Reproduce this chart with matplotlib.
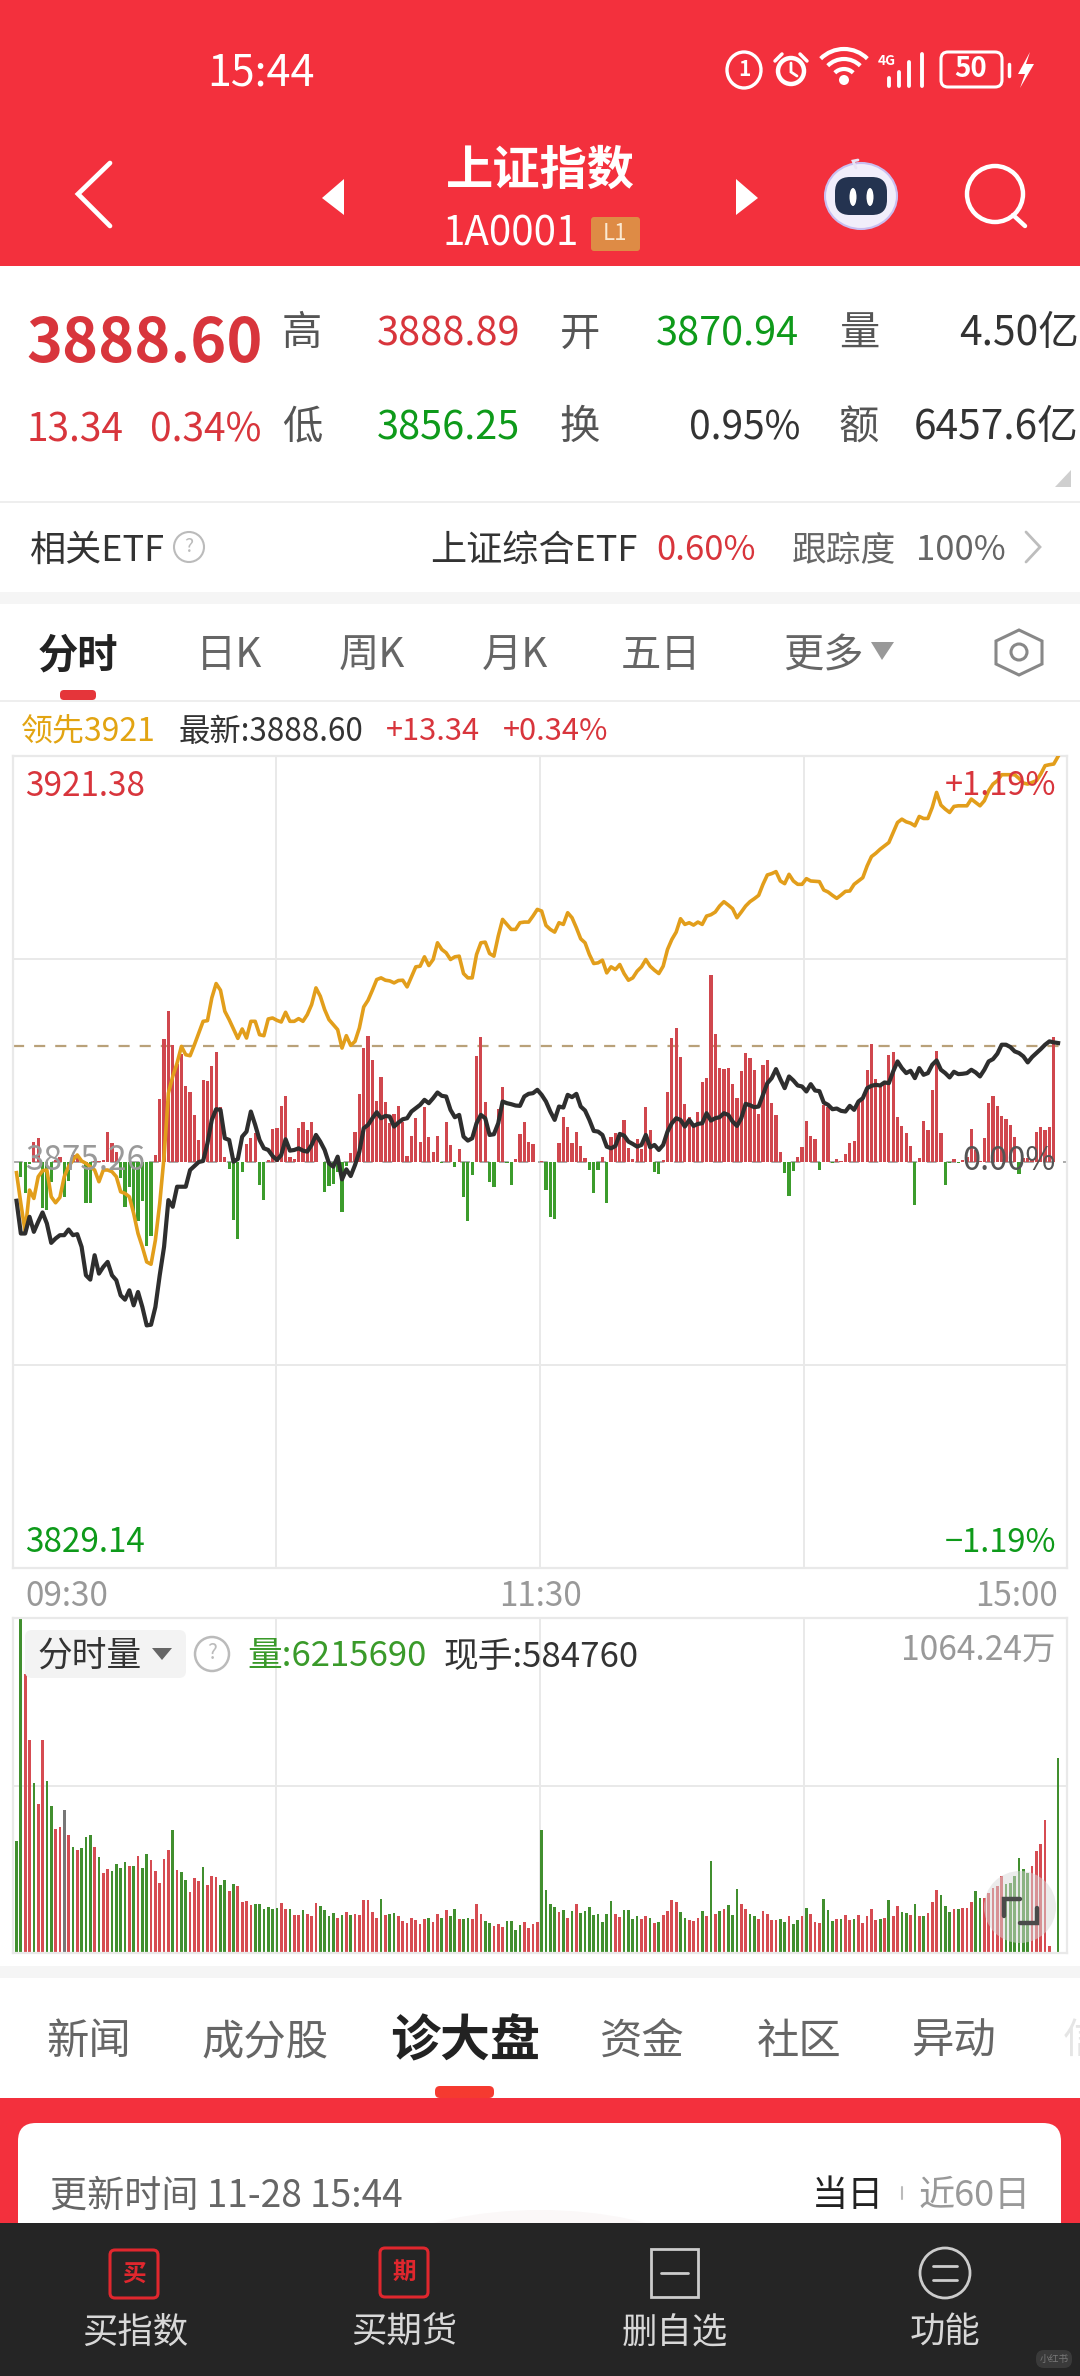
import numpy as np
import matplotlib
matplotlib.use("Agg")
import matplotlib.pyplot as plt
from matplotlib.patches import Rectangle, FancyBboxPatch, Circle, Ellipse, Polygon, Arc

plt.rcParams['font.family'] = ['Noto Sans CJK SC', 'DejaVu Sans']

# ---------- data ----------
# line and bar values in chart units: 1215 units = 1.19 %
index_line = [
 -116,-214,-214,-164,-209,-179,-151,-184,-242,-229,
 -219,-219,-202,-219,-216,-254,-339,-352,-279,-334,
 -314,-299,-339,-354,-399,-412,-384,-429,-389,-434,
 -489,-487,-434,-339,-254,-114,-134,-74,-74,-74,
 -24,-12,0,3,56,126,158,156,71,66,
 1,9,76,91,151,111,66,41,36,18,
 6,21,68,34,36,41,34,31,51,81,
 61,36,-4,-14,16,-52,-22,-42,-9,31,
 101,111,131,149,131,138,136,106,118,128,
 131,151,161,171,186,176,191,208,198,196,
 156,134,141,76,64,71,116,141,131,81,
 83,116,181,176,173,169,168,196,204,206,
 216,201,181,151,126,166,163,201,194,204,
 166,154,126,93,91,81,46,41,48,84,
 79,61,54,46,51,81,44,51,36,51,
 91,116,131,126,106,126,108,114,116,146,
 124,131,134,146,141,121,108,131,174,170,
 164,166,201,236,251,278,248,221,256,244,
 229,226,211,233,214,212,178,171,158,160,
 153,151,168,156,181,191,221,228,231,229,
 238,236,271,301,281,266,273,251,281,261,
 266,291,304,276,266,253,270,263,264,266,
 276,268,256,276,301,308,324,351,351,344,
 331,326,316,298,314,326,338,351,361,358,356]

lead_line = [
 -32,-124,-209,-84,-109,-44,-26,-24,-104,-122,
 -106,-44,-14,6,21,3,-4,-14,-24,-59,
 -24,-24,-29,-44,-89,-94,-104,-154,-214,-254,
 -299,-306,-234,-124,16,206,256,296,346,321,
 318,351,386,421,423,491,534,514,451,426,
 398,370,398,371,421,421,381,378,428,431,
 424,419,448,421,421,429,421,441,471,521,
 496,456,426,411,396,341,378,349,361,401,
 464,484,514,546,551,544,542,536,543,544,
 524,554,584,586,614,588,606,656,636,626,
 606,614,616,564,551,551,621,656,658,624,
 616,676,726,711,696,696,716,718,718,736,
 756,751,708,696,688,716,711,746,731,701,
 668,656,621,594,596,604,566,584,576,591,
 564,544,551,571,584,606,586,574,564,586,
 636,666,688,728,711,716,709,718,711,736,
 740,748,766,779,769,758,731,748,766,779,
 788,798,831,859,863,869,841,833,861,841,
 831,831,848,841,840,839,814,808,798,789,
 799,810,811,831,841,851,886,914,924,936,
 946,956,986,1016,1026,1018,1014,1006,1034,1028,
 1028,1061,1106,1068,1056,1046,1064,1066,1066,1066,
 1086,1076,1066,1081,1111,1131,1141,1159,1159,1159,
 1159,1148,1134,1131,1136,1141,1161,1186,1189,1191,1214]

flow_bars = [
 0,-44,-92,-5,61,73,-139,-144,-59,5,
 16,-106,-57,20,16,5,-122,-124,3,3,
 6,91,58,31,-49,-134,-74,-147,-177,-116,
 -251,-221,21,188,369,451,349,294,323,226,
 208,141,66,246,241,288,330,166,14,-21,
 -174,-230,-31,53,71,86,-68,-114,5,99,
 103,168,198,14,10,101,119,96,119,76,
 0,-89,-71,-67,-30,-151,-11,26,91,204,
 341,376,306,184,254,181,116,144,168,121,
 19,78,131,61,164,75,30,78,-3,120,
 51,-16,38,-106,-176,-40,318,374,181,-59,
 -74,160,223,-3,-69,8,84,119,60,53,
 0,4,-84,-166,-171,57,134,104,56,91,
 48,13,-24,-94,-24,15,-122,74,86,86,
 126,41,8,68,40,165,96,-31,-37,5,
 208,371,401,314,174,136,106,151,238,251,
 561,383,280,278,281,234,191,273,326,310,
 276,144,289,306,178,141,31,-34,-102,-27,
 16,46,124,78,68,-24,171,166,-2,8,
 4,24,56,63,176,191,274,353,248,226,
 236,321,330,136,108,86,48,-130,12,123,
 96,216,331,88,-70,-2,8,-4,6,14,
 98,36,4,71,176,198,169,138,128,112,
 76,-36,12,11,8,91,106,96,105,374,0]

# volume in panel units: 1005 units = 1064.24 wan
volume = [
 335,1005,838,640,510,448,638,515,440,372,
 378,428,355,318,310,315,348,354,318,288,
 240,252,245,267,255,272,260,260,290,254,
 297,280,245,210,282,308,370,248,243,220,
 183,225,217,257,205,230,227,205,218,187,
 208,200,153,155,145,148,148,132,138,133,
 135,150,133,131,115,115,128,117,112,150,
 142,128,112,120,105,115,123,115,118,115,
 158,158,123,105,162,115,118,120,110,97,
 90,105,100,88,102,105,92,118,105,130,
 112,133,102,103,105,103,148,118,95,90,
 80,87,78,95,96,70,85,94,75,88,
 92,370,190,148,138,122,130,105,125,147,
 120,125,138,114,118,94,118,156,118,107,
 130,128,103,110,103,112,105,90,94,115,
 126,160,154,122,105,99,97,105,125,110,
 275,118,127,132,145,115,192,148,132,118,
 110,102,125,118,100,100,102,92,112,86,
 100,110,135,118,92,90,162,128,97,103,
 103,113,100,103,113,90,110,131,100,102,
 105,158,110,140,124,120,115,146,112,112,
 120,152,188,174,142,123,132,133,135,136,
 153,185,165,165,180,195,200,230,208,210,
 230,285,252,240,260,305,327,398,20,0,586]

volume_side = ("GGRRGRRGGR" "RNRGRGGGRG" "RRGGGGRGRG" "GRRRRRGRGG" "RRRGRRRGGR"
               "GRRRRGGGGG" "GRRGRRGRRR" "GGGGRGRGRR" "RRRRGRGGRR" "RRRRRGRRGR"
               "GGRGGRRRGG" "RRRGGGGRRR" "RGGGGRGRGR" "GGGGGGGGRR" "GGGGRRGRGR"
               "RRRGGRRRGR" "GRGRGGGRRG" "GRRRRRGGRG" "GRGRRRGGGR" "GRRGRRRRRG"
               "RGRRGGRGRG" "RRRGGGRGRR" "RGGRRRRRGG" "GGGGRRRRRR" "G")

PREV_CLOSE_PCT = 0.0
LAST_PCT = 0.34
PCT_LIMIT = 1.19
UNIT_TO_PCT = PCT_LIMIT / 1215
VOL_TO_WAN = 1064.24 / 1005

RED = '#D8353C'; HEAD = '#F3303D'; GREEN = '#0E9A1A'; GRID = '#E9E9E9'
BAR_RED = '#D0474E'; BAR_GREEN = '#3C9C2C'; VOL_RED = '#D64C52'; VOL_GREEN = '#418F2F'
side_col = {'R': VOL_RED, 'G': VOL_GREEN, 'N': '#777777'}

W, H = 1080, 2376
fig = plt.figure(figsize=(W/100, H/100), dpi=100, facecolor='white')
ui = fig.add_axes([0, 0, 1, 1], zorder=0)
ui.set_xlim(0, W); ui.set_ylim(H, 0); ui.axis('off')
over = fig.add_axes([0, 0, 1, 1], zorder=5)
over.set_xlim(0, W); over.set_ylim(H, 0); over.axis('off'); over.patch.set_alpha(0)


def T(x, y, s, size, color='#333333', ha='left', weight='normal', ax=over):
    ax.text(x, y + 8, s, fontsize=size, color=color, ha=ha, va='center', fontweight=weight)


def R(x0, y0, x1, y1, color, ax=ui, z=1):
    ax.add_patch(Rectangle((x0, y0), x1-x0, y1-y0, fc=color, ec='none', zorder=z))


def RR(x0, y0, x1, y1, r, fc='none', ec='none', lw=0, ax=over, z=2):
    ax.add_patch(FancyBboxPatch((x0+r, y0+r), x1-x0-2*r, y1-y0-2*r,
                                boxstyle=f"round,pad={r}", fc=fc, ec=ec, lw=lw, zorder=z))


def L(xs, ys, color, lw, ax=over, z=3):
    ax.plot(xs, ys, color=color, lw=lw, zorder=z, solid_capstyle='round', solid_joinstyle='miter')


# ---------- header ----------
R(0, 0, W, 266, HEAD)
T(261, 65, '15:44', 31, 'white', 'center', 'medium')
# status icons
over.add_patch(Arc((744, 70), 34, 36, theta1=0, theta2=360, ec='white', lw=2.4))
T(744, 61, '1', 15, 'white', 'center', 'bold')
over.add_patch(Circle((791, 71), 13, fc='none', ec='white', lw=3.2))
L([791, 791, 797], [63, 72, 76], 'white', 2)
L([775, 782], [61, 54], 'white', 2.5); L([800, 807], [54, 61], 'white', 2.5)
for rad in (26, 46, 66):
    over.add_patch(Arc((844, 82), rad, rad, theta1=225, theta2=315, ec='white', lw=3))
over.add_patch(Circle((844, 80), 5, fc='white', ec='none'))
T(878, 53, '4G', 10, 'white', 'left', 'bold')
for xb, top in zip((889, 899, 909, 922), (78, 72, 62, 54)):
    L([xb, xb], [top, 86], 'white', 2.8)
RR(941, 52, 1002, 87, 7, ec='white', lw=2.2)
T(971, 61, '50', 20, 'white', 'center', 'bold')
L([1009, 1009], [64, 76], 'white', 2.5)
over.add_patch(Polygon([[1030, 52], [1018, 74], [1025, 74], [1020, 88], [1034, 64], [1026, 64]], fc='white', ec='none'))
# nav bar
L([110, 78, 110], [163, 194, 226], 'white', 3.4)
over.add_patch(Polygon([[322, 198], [344, 179], [344, 215]], fc='white', ec='none'))
over.add_patch(Polygon([[758, 198], [736, 179], [736, 215]], fc='white', ec='none'))
T(540, 163, '上证指数', 34, 'white', 'center', 'bold')
T(443, 226, '1A0001', 29, 'white', 'left')
RR(591, 217, 640, 251, 3, fc='#DE8B45')
T(615, 225, 'L1', 16, '#FBE9D2', 'center')
# robot
L([856, 853, 858], [168, 161, 160], '#E8E4F5', 2)
over.add_patch(Ellipse((861, 196), 72, 66, fc='#F1EEFB', ec='#C9BEF0', lw=1.5, zorder=2))
RR(835, 177, 887, 215, 15, fc='#243350', z=3)
over.add_patch(Ellipse((853, 197), 7, 18, fc='white', ec='none', zorder=4))
over.add_patch(Ellipse((870, 197), 7, 18, fc='white', ec='none', zorder=4))
# search
over.add_patch(Circle((995, 194), 28, fc='none', ec='white', lw=3.2))
L([1013, 1025], [215, 226], 'white', 3.2)

# ---------- quote block ----------
T(26, 336, '3888.60', 44, RED, weight='bold')
T(27, 422, '13.34', 28, RED, weight='medium')
T(150, 422, '0.34%', 28, RED, weight='medium')
T(302, 326, '高', 29, '#555555', 'center'); T(302, 419, '低', 29, '#555555', 'center')
T(377, 327, '3888.89', 28.5, RED, weight='medium'); T(377, 421, '3856.25', 28.5, GREEN, weight='medium')
T(580, 326, '开', 29, '#555555', 'center'); T(580, 419, '换', 29, '#555555', 'center')
T(656, 327, '3870.94', 28.5, GREEN, weight='medium'); T(800, 421, '0.95%', 28, '#333333', 'right', 'medium')
T(859, 326, '量', 29, '#555555', 'center'); T(859, 420, '额', 29, '#555555', 'center')
T(1079, 326, '4.50亿', 29.3, '#333333', 'right', 'medium'); T(1079, 420, '6457.6亿', 29.3, '#333333', 'right', 'medium')
over.add_patch(Polygon([[1071, 470], [1071, 487], [1055, 487]], fc='#CFCFCF', ec='none'))
R(0, 501, W, 503, '#EEEEEE')
T(30, 543, '相关ETF', 26, '#333333')
over.add_patch(Circle((189, 547), 15, fc='none', ec='#BBBBBB', lw=1.5))
T(189, 539, '?', 14, '#BBBBBB', 'center')
T(430, 543, '上证综合ETF', 26, '#333333', weight='medium')
T(656, 543, '0.60%', 25, RED)
T(792, 543, '跟踪度', 25, '#666666')
T(916, 543, '100%', 25, '#666666')
L([1026, 1040, 1026], [532, 547, 562], '#BDBDBD', 2)
R(0, 592, W, 604, '#F5F5F5')
# period tabs
T(78, 648, '分时', 29, '#222222', 'center', 'bold')
for xc, s in zip((229, 372, 515, 661, 823), ('日K', '周K', '月K', '五日', '更多')):
    T(xc, 648, s, 29, '#666666', 'center')
over.add_patch(Polygon([[871, 642], [894, 642], [882, 660]], fc='#999999', ec='none'))
over.add_patch(Polygon([[1019, 630], [1042, 641], [1042, 664], [1019, 675], [996, 664], [996, 641]], fc='none', ec='#888888', lw=2.2))
over.add_patch(Circle((1019, 652), 8, fc='none', ec='#888888', lw=2.2))
RR(60, 690, 96, 700, 4, fc='#E5353A')
R(0, 700, W, 702, '#EEEEEE')
T(21, 724, '领先3921', 23, '#E2A412')
T(179, 724, '最新:3888.60', 22.6, '#333333')
T(386, 724, '+13.34', 22.2, RED)
T(503, 724, '+0.34%', 22.2, RED)

# ---------- price panel ----------
pad = 0.806
xlim = (-pad, 242.05)
vgrid = [59.7, 120.6, 181.5]
t = np.arange(len(index_line))
ax = fig.add_axes([13/W, 1-1568/H, (1067-13)/W, (1568-756)/H], zorder=2)
ax.set_xlim(*xlim); ax.set_ylim(-PCT_LIMIT, PCT_LIMIT)
ax.set_xticks([]); ax.set_yticks([])
for s in ax.spines.values():
    s.set_color(GRID); s.set_linewidth(1.6)
for v in vgrid:
    ax.axvline(v, color=GRID, lw=1.4, zorder=0)
for v in (-PCT_LIMIT/2, PCT_LIMIT/2):
    ax.axhline(v, color=GRID, lw=1.4, zorder=0)
vals = np.array(flow_bars) * UNIT_TO_PCT
ax.axhline(PREV_CLOSE_PCT, color='#AAAAAA', lw=1.4, dashes=(5, 5), zorder=1)
ax.axhline(LAST_PCT, color='#B9A179', lw=1.6, dashes=(5, 4.5), zorder=1)
ax.bar(t, vals, width=0.74, color=[BAR_RED if v >= 0 else BAR_GREEN for v in vals], zorder=2, linewidth=0)
ax.plot(t, np.array(lead_line) * UNIT_TO_PCT, color='#E29E1B', lw=2.6, zorder=3, solid_joinstyle='round')
ax.plot(t, np.array(index_line) * UNIT_TO_PCT, color='#2E2E2E', lw=3.0, zorder=4, solid_joinstyle='round')

T(25, 778, '3921.38', 24, RED)
T(25, 1153, '3875.26', 24, '#9A9A9A')
T(25, 1535, '3829.14', 24, GREEN)
T(1056, 778, '+1.19%', 23.5, RED, 'right')
T(1056, 1153, '0.00%', 23.5, '#555555', 'right')
T(1056, 1535, '−1.19%', 23.5, GREEN, 'right')
T(25, 1589, '09:30', 24, '#999999')
T(541, 1589, '11:30', 24, '#999999', 'center')
T(1058, 1589, '15:00', 24, '#999999', 'right')

# ---------- volume panel ----------
ax2 = fig.add_axes([13/W, 1-1953/H, (1067-13)/W, (1953-1618)/H], zorder=2)
ax2.set_xlim(*xlim); ax2.set_ylim(0, 1005 * VOL_TO_WAN)
ax2.set_xticks([]); ax2.set_yticks([])
for s in ax2.spines.values():
    s.set_color(GRID); s.set_linewidth(1.6)
for v in vgrid:
    ax2.axvline(v, color=GRID, lw=1.4, zorder=0)
ax2.axhline(1005 * VOL_TO_WAN / 2, color=GRID, lw=1.4, zorder=0)
ax2.bar(t, np.array(volume) * VOL_TO_WAN, width=0.62, color=[side_col[c] for c in volume_side], zorder=2, linewidth=0)

RR(25, 1630, 186, 1678, 7, fc='#F3F3F3')
T(37, 1649, '分时量', 25, '#333333')
over.add_patch(Polygon([[152, 1648], [172, 1648], [162, 1660]], fc='#666666', ec='none', zorder=3))
over.add_patch(Circle((212, 1654), 17, fc='white', ec='#BBBBBB', lw=1.8))
T(212, 1645, '?', 15, '#BBBBBB', 'center')
T(247, 1649, '量:6215690', 25, '#3A9A2A')
T(444, 1649, '现手:584760', 25, '#333333')
T(1056, 1642, '1064.24万', 24.2, '#999999', 'right')
over.add_patch(Circle((1020, 1907), 36, fc='#D8D8D8', ec='none', alpha=0.5, zorder=3))
L([1004, 1004, 1020], [1916, 1899, 1899], '#4A4A4A', 3.2, z=4)
L([1020, 1037, 1037], [1923, 1923, 1908], '#4A4A4A', 3.2, z=4)

# ---------- lower tabs ----------
R(0, 1966, W, 1978, '#F5F5F5')
for xc, s in zip((89, 265, 642, 799, 954), ('新闻', '成分股', '资金', '社区', '异动')):
    T(xc, 2034, s, 30.5, '#666666', 'center')
T(465, 2034, '诊大盘', 36, '#222222', 'center', 'bold')
T(1063, 2034, '信', 30, '#E5E5E5', 'left')
RR(435, 2086, 494, 2098, 5, fc='#F53A30')
R(0, 2098, W, 2224, HEAD)
RR(18, 2123, 1061, 2290, 18, fc='white', ax=ui, z=2)
ui.add_patch(Ellipse((540, 2330), 470, 240, fc='#FBF8F8', ec='none', zorder=3))
T(50, 2188, '更新时间 11-28 15:44', 26.7, '#666666')
T(848, 2188, '当日', 26, '#222222', 'center')
L([902, 902], [2187, 2199], '#BBBBBB', 1.5)
T(919, 2188, '近60日', 26, '#999999')

# ---------- footer ----------
R(0, 2223, W, H, '#252525', z=5)
RR(110, 2250, 158, 2298, 5, ec='#E0272E', lw=2.2)
T(134, 2266, '买', 17, '#E0272E', 'center', 'bold')
RR(380, 2248, 428, 2297, 5, ec='#E0272E', lw=2.2)
T(404, 2264, '期', 17, '#E0272E', 'center', 'bold')
over.add_patch(Rectangle((651, 2249), 47, 48, fc='none', ec='#CCCCCC', lw=2))
L([661, 688], [2273, 2273], '#CCCCCC', 2)
over.add_patch(Circle((945, 2273), 25, fc='none', ec='#CCCCCC', lw=2))
L([933, 957], [2266, 2266], '#CCCCCC', 2); L([933, 957], [2280, 2280], '#CCCCCC', 2)
for xc, s in zip((135, 404, 675, 945), ('买指数', '买期货', '删自选', '功能')):
    T(xc, 2325, s, 25.5, '#D8D8D8', 'center')
RR(1036, 2350, 1072, 2368, 8, fc='#3A3A3A')
T(1054, 2351, '小红书', 7, '#777777', 'center')

fig.savefig('out.png', dpi=100, facecolor='white')
